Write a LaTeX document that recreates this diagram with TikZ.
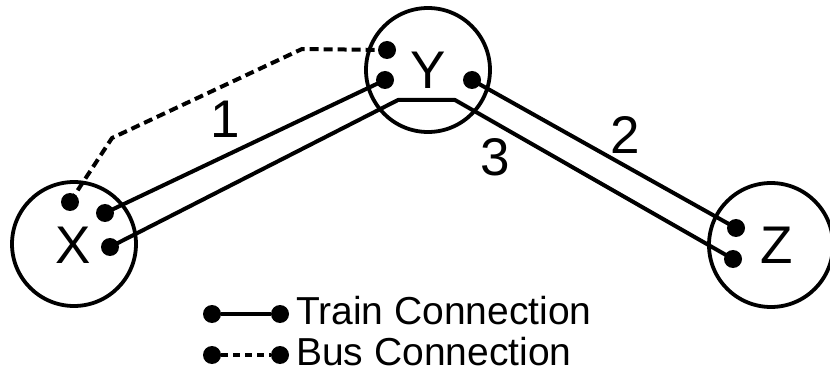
\documentclass[tikz,border=0pt]{standalone}
\usepackage{fontspec}
\setmainfont{Liberation Sans}
\tikzset{
  town/.style={draw, circle, line width=3.8pt, minimum size=124pt, inner sep=0pt},
  stop/.style={circle, fill=black, inner sep=0pt, minimum size=18pt},
  train/.style={line width=4pt, line join=round},
  bus/.style={line width=4pt, dash pattern=on 9pt off 5pt},
  busleg/.style={line width=4pt, dash pattern=on 7pt off 5pt},
  townlabel/.style={inner sep=0pt, font=\fontsize{53}{60}\selectfont},
  leglabel/.style={inner sep=0pt, anchor=base west, font=\fontsize{39}{44}\selectfont}
}
\begin{document}
\begin{tikzpicture}[x=1pt, y=-1pt]
  \useasboundingbox (0,0) rectangle (830,374);
  % towns
  \node[town] (X) at (74,244) {};
  \node[town] (Y) at (428,70) {};
  \node[town] (Z) at (771,245) {};
  \node[townlabel] (Xl) at (73,245) {X};
  \node[townlabel] (Yl) at (428,70) {Y};
  \node[townlabel] (Zl) at (777,245) {Z};
  % stops
  \node[stop] (xb) at (70,202) {};
  \node[stop] (xa) at (105,213) {};
  \node[stop] (xc) at (110,247) {};
  \node[stop] (yb) at (387,50) {};
  \node[stop] (ya) at (385,80) {};
  \node[stop] (yc) at (472,80) {};
  \node[stop] (za) at (736,228) {};
  \node[stop] (zc) at (733,259) {};
  % bends
  \coordinate (c1) at (398,100);
  \coordinate (c2) at (455,100);
  \coordinate (b1) at (112,138);
  \coordinate (b2) at (302,49);
  % connections
  \draw[train] (xa.center) -- (ya.center);
  \draw[train] (yc.center) -- (za.center);
  \draw[train] (xc.center) -- (c1) -- (c2) -- (zc.center);
  \draw[bus] (xb.center) -- (b1) -- (b2) -- (yb.center);
  \node[townlabel] (n1) at (225,119) {1};
  \node[townlabel] (n2) at (625,135) {2};
  \node[townlabel] (n3) at (495,157) {3};
  % legend
  \node[stop] (ta) at (212,314) {};
  \node[stop] (tb) at (280,314) {};
  \node[stop] (ba) at (212,355) {};
  \node[stop] (bb) at (280,355) {};
  \draw[train] (ta) -- (tb);
  \draw[busleg] (ba) -- (bb);
  \node[leglabel] (tl) at (296,324) {Train Connection};
  \node[leglabel] (bl) at (296,365) {Bus Connection};
\end{tikzpicture}
\end{document}
